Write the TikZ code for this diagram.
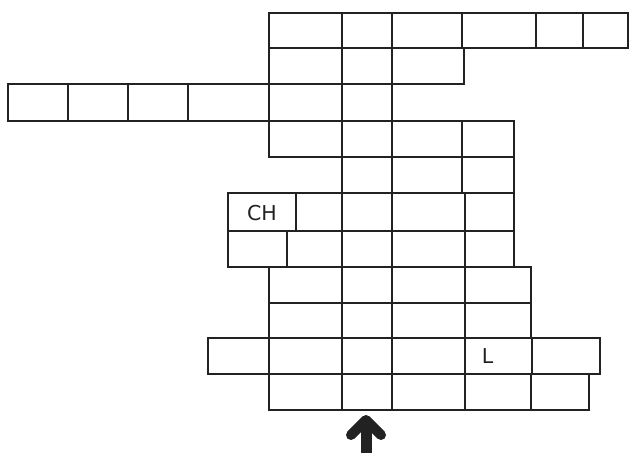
\documentclass[tikz,border=0pt]{standalone}
\usepackage{fontspec}
\setmainfont{DejaVu Sans}
\definecolor{ink}{HTML}{222222}
\newcommand\cellrow[3]{\foreach \a/\b in {#3} {\draw[cell] (\a,#1) rectangle (\b,#2);}}
\begin{document}
\begin{tikzpicture}[x=1pt,y=-1pt,
  cell/.style={draw=ink,line width=1.3pt},
  lbl/.style={font=\fontsize{20.5}{24}\selectfont,text=ink,inner sep=0pt}]
\useasboundingbox (0,0) rectangle (630,453);
\cellrow{13}{48}{269/342,342/392,392/462,462/536,536/583,583/628}
\cellrow{48}{84}{269/342,342/392,392/464}
\cellrow{84}{121}{8/68,68/128,128/188,188/269,269/342,342/392}
\cellrow{121}{157}{269/342,342/392,392/462,462/514}
\cellrow{157}{193}{342/392,392/462,462/514}
\cellrow{193}{231}{228/296,296/342,342/392,392/465,465/514}
\cellrow{231}{267}{228/287,287/342,342/392,392/465,465/514}
\cellrow{267}{303}{269/342,342/392,392/465,465/531}
\cellrow{303}{338}{269/342,342/392,392/465,465/531}
\cellrow{338}{374}{208/269,269/342,342/392,392/465,465/532,532/600}
\cellrow{374}{410}{269/342,342/392,392/465,465/531,531/589}
\node[lbl] (ch) at (262,213) {CH};
\node[lbl] (l) at (487.5,356.5) {L};
% arrow
\draw[ink,line width=11pt] (366,453) -- (366,424);
\draw[ink,line width=10pt,line join=round,line cap=round] (351,435) -- (366,420) -- (381,435);
\end{tikzpicture}
\end{document}
